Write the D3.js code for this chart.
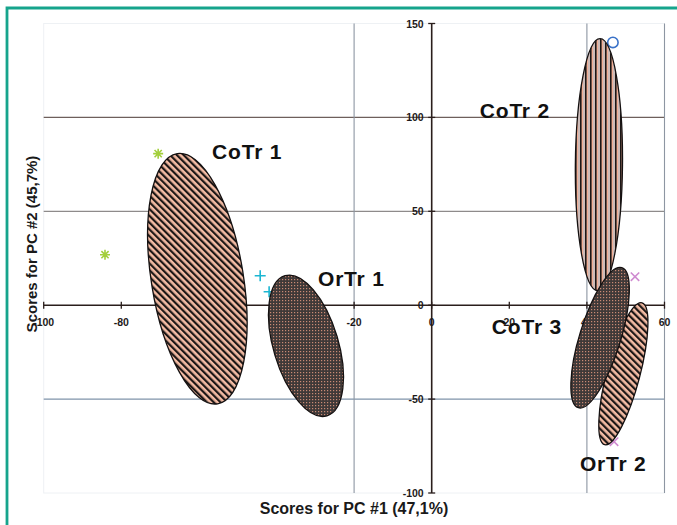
<!DOCTYPE html>
<html>
<head>
<meta charset="utf-8">
<script src="https://cdn.jsdelivr.net/npm/d3@7"></script>
<style>
  html, body { margin: 0; padding: 0; background: #ffffff; }
  svg { display: block; font-family: "Liberation Sans", Arial, Helvetica, sans-serif; }
</style>
</head>
<body>
<svg id="chart" width="677" height="525"></svg>
<script>
// ---- data -------------------------------------------------------------
const xTicks = [-100, -80, -60, -40, -20, 0, 20, 40, 60];
const yTicks = [-100, -50, 0, 50, 100, 150];
const xGrid = [-20, 40, 60];
const yGrid = [100, 50, -50];

// score points of the individual samples
const pointKinds = ["star", "star", "plus", "plus", "circle", "cross", "cross"];
const pointX = [-70.5, -84.2, -44.2, -41.9, 46.7, 52.4, 47.0];
const pointY = [80.7, 26.9, 15.7, 7.2, 139.9, 15.2, -72.7];

// confidence ellipses: centre, end of the major axis, minor/major ratio
const ellipseNames = ["CoTr 1", "OrTr 1", "CoTr 2", "CoTr 3", "OrTr 2"];
const ellipseCX = [-60.4, -32.4, 43.1, 49.4, 43.4];
const ellipseCY = [14.1, -21.6, 74.8, -36.5, -17.3];
const ellipseTipX = [-65.6, -37.8, 43.4, 54.2, 49.0];
const ellipseTipY = [80.7, 15.7, 141.9, 1.3, 20.0];
const ellipseRatio = [0.363, 0.444, 0.187, 0.226, 0.279];

// group labels
const labelTexts = ["CoTr 1", "OrTr 1", "CoTr 2", "CoTr 3", "OrTr 2"];
const labelX = [-56.6, -29.3, 12.4, 15.5, 38.2];
const labelY = [78.0, 10.4, 99.8, -15.2, -88.1];

// ---- layout -----------------------------------------------------------
const svg = d3.select("#chart");
const x = d3.scaleLinear().domain([-100, 60]).range([43.7, 664.5]);
const y = d3.scaleLinear().domain([-100, 150]).range([493, 23.5]);

const fills = {
  "CoTr 1": "url(#diag)",
  "OrTr 1": "url(#dots)",
  "CoTr 2": "url(#vert)",
  "CoTr 3": "url(#diag)",
  "OrTr 2": "url(#dots)"
};

// ---- patterns ---------------------------------------------------------
const defs = svg.append("defs");

const diag = defs.append("pattern").attr("id", "diag")
  .attr("patternUnits", "userSpaceOnUse")
  .attr("width", 4.8).attr("height", 4.8)
  .attr("patternTransform", "rotate(-45)");
diag.append("rect").attr("width", 4.8).attr("height", 4.8).attr("fill", "#f4bca4");
diag.append("rect").attr("width", 2.2).attr("height", 4.8).attr("fill", "#1c1716");

const vert = defs.append("pattern").attr("id", "vert")
  .attr("patternUnits", "userSpaceOnUse")
  .attr("width", 5).attr("height", 5);
vert.append("rect").attr("width", 5).attr("height", 5).attr("fill", "#f0ae95");
vert.append("rect").attr("x", 3.2).attr("width", 1.6).attr("height", 5).attr("fill", "#c4bfc1");
vert.append("rect").attr("width", 1.6).attr("height", 5).attr("fill", "#1c1716");

const dots = defs.append("pattern").attr("id", "dots")
  .attr("patternUnits", "userSpaceOnUse")
  .attr("width", 3).attr("height", 3);
dots.append("rect").attr("width", 3).attr("height", 3).attr("fill", "#3f3938");
dots.append("rect").attr("width", 1.2).attr("height", 1.2).attr("fill", "#c98a74");

// ---- frame ------------------------------------------------------------
svg.append("path")
  .attr("d", "M7,525 L7,8 L677,8")
  .attr("fill", "none").attr("stroke", "#16a48c").attr("stroke-width", 2.8);

// faint plot-area outline
svg.append("rect")
  .attr("x", x(-100)).attr("y", y(150))
  .attr("width", x(60) - x(-100)).attr("height", y(-100) - y(150))
  .attr("fill", "none").attr("stroke", "#eef1f4").attr("stroke-width", 1);

// ---- gridlines --------------------------------------------------------
const yGridColor = { "100": "#6e5f5b", "50": "#8e8b8b", "-50": "#7f93aa" };
svg.append("g").selectAll("line").data(yGrid).join("line")
  .attr("x1", x(-100)).attr("x2", x(60))
  .attr("y1", d => y(d)).attr("y2", d => y(d))
  .attr("stroke", d => yGridColor[d]).attr("stroke-width", 1.2);

svg.append("g").selectAll("line").data(xGrid).join("line")
  .attr("x1", d => x(d)).attr("x2", d => x(d))
  .attr("y1", y(150)).attr("y2", y(-100))
  .attr("stroke", "#8d96a2").attr("stroke-width", 1.1);

// ---- axes crossing at the origin -------------------------------------
const axisColor = "#2a1e1c";
const ax = svg.append("g");
ax.append("line").attr("x1", x(-100)).attr("x2", x(60))
  .attr("y1", y(0)).attr("y2", y(0))
  .attr("stroke", axisColor).attr("stroke-width", 1.6);
ax.append("line").attr("x1", x(0)).attr("x2", x(0))
  .attr("y1", y(150)).attr("y2", y(-100))
  .attr("stroke", axisColor).attr("stroke-width", 1.6);

ax.selectAll(".xt").data(xTicks).join("line").attr("class", "xt")
  .attr("x1", d => x(d)).attr("x2", d => x(d))
  .attr("y1", y(0) - 3.5).attr("y2", y(0) + 3.5)
  .attr("stroke", axisColor).attr("stroke-width", 1.3);
ax.selectAll(".yt").data(yTicks).join("line").attr("class", "yt")
  .attr("x1", x(0) - 3.5).attr("x2", x(0) + 3.5)
  .attr("y1", d => y(d)).attr("y2", d => y(d))
  .attr("stroke", axisColor).attr("stroke-width", 1.3);

const tickFont = { size: "10.5px", weight: "bold", fill: "#1e1a1a" };
ax.selectAll(".xl").data(xTicks).join("text").attr("class", "xl")
  .attr("x", d => x(d)).attr("y", y(0) + 21)
  .attr("text-anchor", "middle")
  .attr("font-size", tickFont.size).attr("font-weight", tickFont.weight)
  .attr("fill", tickFont.fill)
  .text(d => d);
ax.selectAll(".yl").data(yTicks).join("text").attr("class", "yl")
  .attr("x", x(0) - 8).attr("y", d => y(d) + 4)
  .attr("text-anchor", "end")
  .attr("font-size", tickFont.size).attr("font-weight", tickFont.weight)
  .attr("fill", tickFont.fill)
  .text(d => d);

// ---- sample points ----------------------------------------------------
const markerColor = { star: "#a3cf3c", plus: "#1cb6d2", circle: "#3a72c8", cross: "#cf8bd0" };
const pts = svg.append("g");
pointKinds.forEach((k, i) => {
  const cx = x(pointX[i]), cy = y(pointY[i]);
  const g = pts.append("g").attr("transform", `translate(${cx},${cy})`)
    .attr("stroke", markerColor[k]).attr("fill", "none").attr("stroke-width", 1.6);
  if (k === "star") {
    const r = 5;
    g.append("path").attr("d",
      `M${-r},0L${r},0M0,${-r}L0,${r}M${-r * 0.72},${-r * 0.72}L${r * 0.72},${r * 0.72}M${-r * 0.72},${r * 0.72}L${r * 0.72},${-r * 0.72}`);
  } else if (k === "plus") {
    const r = 5.5;
    g.append("path").attr("d", `M${-r},0L${r},0M0,${-r}L0,${r}`);
  } else if (k === "circle") {
    g.append("circle").attr("r", 5.2);
  } else {
    const r = 4.2;
    g.append("path").attr("d", `M${-r},${-r}L${r},${r}M${-r},${r}L${r},${-r}`);
  }
});

// ---- ellipses ---------------------------------------------------------
const ell = svg.append("g");
ellipseNames.forEach((name, i) => {
  const cx = x(ellipseCX[i]), cy = y(ellipseCY[i]);
  const dx = x(ellipseTipX[i]) - cx, dy = y(ellipseTipY[i]) - cy;
  const a = Math.hypot(dx, dy), b = a * ellipseRatio[i];
  const ang = Math.atan2(dy, dx) * 180 / Math.PI;
  const p1 = [cx + dx, cy + dy], p2 = [cx - dx, cy - dy];
  const d = `M${p1[0]},${p1[1]}A${a},${b} ${ang} 1 1 ${p2[0]},${p2[1]}A${a},${b} ${ang} 1 1 ${p1[0]},${p1[1]}Z`;
  ell.append("path").attr("d", d)
    .attr("fill", fills[name])
    .attr("stroke", "#141010").attr("stroke-width", 1.3);
});

// ---- group labels -----------------------------------------------------
svg.append("g").selectAll("text").data(labelTexts).join("text")
  .attr("x", (d, i) => x(labelX[i])).attr("y", (d, i) => y(labelY[i]))
  .attr("font-size", "21px").attr("font-weight", "bold")
  .attr("letter-spacing", "0.8px")
  .attr("fill", "#111")
  .text(d => d);

// ---- axis titles ------------------------------------------------------
svg.append("text")
  .attr("x", 354).attr("y", 514)
  .attr("text-anchor", "middle")
  .attr("font-size", "16px").attr("font-weight", "bold").attr("fill", "#1a1a1a")
  .text("Scores for PC #1 (47,1%)");

svg.append("text")
  .attr("transform", "translate(37,244) rotate(-90)")
  .attr("text-anchor", "middle")
  .attr("font-size", "15px").attr("font-weight", "bold").attr("fill", "#1a1a1a")
  .text("Scores for PC #2 (45,7%)");
</script>
</body>
</html>
